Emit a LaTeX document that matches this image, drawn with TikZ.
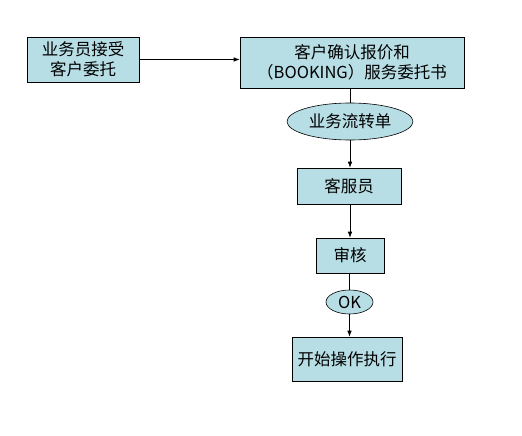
\documentclass[tikz,border=0pt]{standalone}
\usepackage{fontspec}
\setmainfont{Noto Sans CJK SC}
\usetikzlibrary{shapes.geometric,arrows.meta}
\definecolor{boxfill}{RGB}{183,221,229}
\tikzset{
  box/.style={draw=black, fill=boxfill, line width=0.6pt, inner sep=0pt, align=center, font=\fontsize{16.5}{20}\selectfont},
  oval/.style={draw=black, fill=boxfill, line width=0.6pt, ellipse, inner sep=0pt, font=\fontsize{16.5}{18}\selectfont},
  conn/.style={line width=0.6pt},
  arr/.style={line width=0.6pt, -{Latex[length=6pt,width=4.5pt]}}
}
\begin{document}
\begin{tikzpicture}[x=1pt,y=-1pt]
\useasboundingbox[fill=white] (0,0) rectangle (522,436);
\node[box, minimum width=112pt, minimum height=45pt] (a) at (83,59.5) {业务员接受\\客户委托};
\node[box, minimum width=224pt, minimum height=51pt] (b) at (352,62.5) {客户确认报价和\\（BOOKING）服务委托书};
\node[oval, minimum width=126pt, minimum height=37pt] (c) at (350,121.5) {业务流转单};
\node[box, minimum width=104pt, minimum height=36pt] (d) at (349,186) {客服员};
\node[box, minimum width=68pt, minimum height=35pt] (e) at (350,255.5) {审核};
\node[oval, minimum width=47pt, minimum height=24pt] (f) at (349.5,302) {OK};
\node[box, minimum width=110pt, minimum height=44pt] (g) at (347,359) {开始操作执行};
\draw[arr] (a.east) -- (a.east -| b.west);
\draw[conn] (b.south -| c.north) -- (c.north);
\draw[arr] (c.south) -- (c.south |- d.north);
\draw[arr] (d.south -| e.north) -- (e.north);
\draw[conn] (e.south -| f.north) -- (f.north);
\draw[arr] (f.south) -- (f.south |- g.north);
\end{tikzpicture}
\end{document}
